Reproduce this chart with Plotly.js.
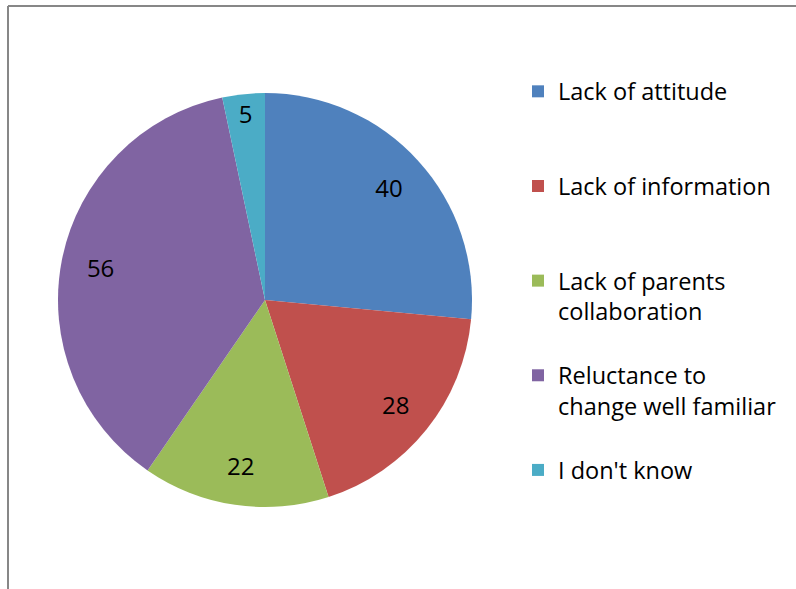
<!DOCTYPE html>
<html>
<head>
<meta charset="utf-8">
<script src="https://cdn.plot.ly/plotly-3.0.1.min.js"></script>
<style>
html,body{margin:0;padding:0;background:#fff;overflow:hidden;}
#chart{width:796px;height:589px;}
</style>
</head>
<body>
<div id="chart"></div>
<script>
const categories = ["Lack of attitude", "Lack of information", "Lack of parents collaboration", "Reluctance to change well familiar", "I don't know"];
const legendLabels = ["\u00a0<br>Lack of attitude<br>\u00a0", "\u00a0<br>Lack of information<br>\u00a0", "\u00a0<br>Lack of parents<br>collaboration", "\u00a0<br>Reluctance to<br>change well familiar", "\u00a0<br>I don't know<br>\u00a0"];
const values = [40, 28, 22, 56, 5];
const colors = ["#4F81BD", "#C0504D", "#9BBB59", "#8064A2", "#4BACC6"];

const W = 796, H = 589;
const cx = 265, cy = 300, r = 207;
const fontFam = "'Open Sans', sans-serif";
const dom = {x: [(cx - r) / W, (cx + r) / W], y: [(H - cy - r) / H, (H - cy + r) / H]};

// colored slices + legend
const pieTrace = {
  type: 'pie',
  labels: legendLabels,
  values: values,
  customdata: categories,
  sort: false,
  direction: 'clockwise',
  rotation: 0,
  marker: {colors: colors, line: {color: '#ffffff', width: 0}},
  textinfo: 'none',
  hovertemplate: '%{customdata}: %{value}<extra></extra>',
  domain: dom
};

// same data, transparent ring, to carry the value labels out toward the rim
const labelTrace = {
  type: 'pie',
  labels: legendLabels,
  values: values,
  sort: false,
  direction: 'clockwise',
  rotation: 0,
  hole: 0.62,
  showlegend: false,
  marker: {colors: colors.map(() => 'rgba(0,0,0,0)'), line: {width: 0}},
  textinfo: 'value',
  textposition: 'inside',
  insidetextorientation: 'horizontal',
  insidetextfont: {size: 24, color: '#000000', family: fontFam},
  hoverinfo: 'skip',
  domain: dom
};

const layout = {
  width: W, height: H,
  margin: {l: 0, r: 0, t: 0, b: 0},
  paper_bgcolor: '#ffffff',
  font: {family: fontFam, color: '#000000'},
  uniformtext: {mode: 'show', minsize: 24},
  showlegend: true,
  legend: {
    x: 518 / W, xanchor: 'left',
    y: 1 - 39 / H, yanchor: 'top',
    font: {size: 23.5, color: '#000000', family: fontFam},
    bgcolor: 'rgba(0,0,0,0)',
    traceorder: 'normal'
  },
  shapes: [
    {type: 'line', xref: 'paper', yref: 'paper', x0: 8 / W, x1: 8 / W, y0: 0, y1: 1 - 6 / H, line: {color: '#878787', width: 2}},
    {type: 'line', xref: 'paper', yref: 'paper', x0: 8 / W, x1: 1, y0: 1 - 6 / H, y1: 1 - 6 / H, line: {color: '#878787', width: 2}}
  ]
};

Plotly.newPlot('chart', [pieTrace, labelTrace], layout, {displayModeBar: false, staticPlot: true});
</script>
</body>
</html>
